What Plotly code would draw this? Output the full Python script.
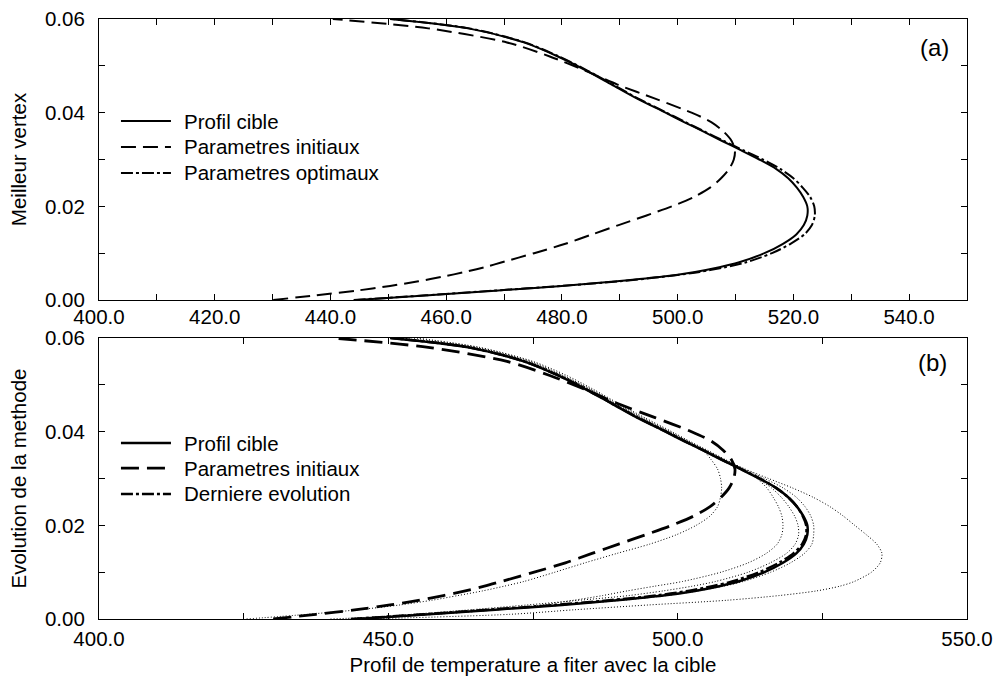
import plotly.graph_objects as go

# Position z (m) at which every temperature profile is sampled
z = [0.000, 0.001, 0.002, 0.003, 0.004, 0.005, 0.006, 0.007, 0.008, 0.010,
     0.012, 0.014, 0.016, 0.018, 0.020, 0.022, 0.024, 0.026, 0.028, 0.030,
     0.032, 0.034, 0.036, 0.038, 0.040, 0.043, 0.046, 0.049, 0.052, 0.055,
     0.058, 0.060]

# Temperature profiles T(z)
profil_cible = [444.6, 457.0, 468.5, 480.0, 489.5, 497.5, 503.0, 507.2, 510.5, 515.0,
                518.2, 520.5, 521.8, 522.4, 522.4, 521.7, 520.6, 519.1, 517.0, 514.1,
                510.9, 507.6, 504.4, 501.1, 497.9, 493.0, 488.6, 484.2, 479.3, 473.4,
                463.8, 450.3]
parametres_initiaux = [430.1, 437.5, 444.5, 450.3, 455.2, 459.5, 463.3, 466.6, 469.5, 475.2,
                       480.6, 485.2, 489.8, 494.5, 499.0, 502.8, 505.6, 507.5, 508.9, 509.7,
                       509.9, 509.3, 507.9, 505.8, 502.4, 496.1, 489.6, 484.0, 477.9, 470.5,
                       456.9, 440.4]
parametres_optimaux = [444.0, 456.5, 468.2, 479.8, 490.0, 497.8, 503.8, 508.2, 511.7, 516.3,
                       519.5, 521.9, 523.2, 523.7, 523.6, 522.9, 521.6, 520.0, 517.7, 514.7,
                       511.3, 507.9, 504.6, 501.3, 498.1, 493.2, 488.8, 484.4, 479.5, 473.6,
                       464.0, 450.5]
derniere_evolution = [443.5, 456.0, 467.5, 478.8, 488.2, 496.2, 501.8, 506.0, 509.4, 514.1,
                      517.5, 520.0, 521.5, 522.2, 522.2, 521.6, 520.6, 519.1, 517.0, 514.2,
                      511.0, 507.7, 504.5, 501.2, 498.0, 493.1, 488.7, 484.3, 479.4, 473.5,
                      463.9, 450.5]

# Intermediate profiles of the method
evolution_1 = [446.0, 471.0, 482.5, 495.0, 508.5, 517.5, 524.0, 528.0, 530.5, 533.5,
               535.0, 535.3, 534.4, 532.6, 530.6, 528.6, 526.3, 523.4, 519.8, 515.7,
               511.7, 508.3, 505.2, 502.0, 499.0, 494.3, 489.8, 485.5, 480.8, 475.0,
               465.8, 455.0]
evolution_2 = [425.5, 436.0, 445.0, 452.0, 457.5, 462.0, 466.3, 470.0, 473.4, 478.8,
               484.0, 489.5, 495.2, 499.8, 503.2, 505.6, 506.9, 507.4, 507.6, 507.4,
               506.9, 505.8, 504.4, 501.6, 498.5, 493.7, 489.2, 484.9, 480.0, 474.2,
               464.8, 452.0]
evolution_3 = [440.0, 458.0, 469.0, 476.5, 482.0, 487.0, 491.3, 496.0, 500.8, 507.5,
               512.2, 515.3, 517.2, 518.0, 518.2, 518.0, 517.4, 516.5, 515.4, 513.7,
               511.2, 508.2, 505.0, 501.8, 498.7, 493.9, 489.5, 485.1, 480.2, 474.6,
               465.5, 454.0]
evolution_4 = [444.6, 457.3, 468.9, 480.4, 490.5, 498.0, 503.5, 507.9, 511.3, 516.1,
               519.5, 521.9, 523.2, 523.5, 523.5, 523.0, 522.0, 520.5, 518.2, 515.0,
               511.5, 508.0, 504.7, 501.4, 498.2, 493.3, 488.9, 484.5, 479.6, 473.8,
               464.5, 451.5]
evolution_5 = [443.0, 454.0, 464.5, 474.0, 483.0, 491.5, 497.5, 502.5, 506.5, 512.2,
               516.0, 518.8, 520.3, 520.9, 520.8, 520.2, 519.2, 517.9, 516.2, 513.8,
               510.9, 507.8, 504.6, 501.4, 498.3, 493.4, 489.0, 484.6, 479.7, 473.9,
               464.3, 451.0]

legend_a = ["Profil cible", "Parametres initiaux", "Parametres optimaux"]
legend_b = ["Profil cible", "Parametres initiaux", "Derniere evolution"]

FONT = "Liberation Sans, Arial, Helvetica, sans-serif"
DASH = "15px,7px"
DASH_B = "18px,8px"
DASHDOT = "12px,3px,3px,3px"
DOT = "1px,2px"

fig = go.Figure()


def add(xs, dash, width, xa, ya):
    fig.add_trace(go.Scatter(
        x=xs, y=z, mode="lines", xaxis=xa, yaxis=ya, showlegend=False,
        line=dict(color="black", width=width, dash=dash, shape="spline", smoothing=0.8),
        hoverinfo="skip"))


# (a) best vertex
add(parametres_initiaux, DASH, 2, "x", "y")
add(parametres_optimaux, DASHDOT, 2, "x", "y")
add(profil_cible, "solid", 2, "x", "y")

# (b) evolution of the method
for prof in (evolution_1, evolution_2, evolution_3, evolution_4, evolution_5):
    add(prof, DOT, 1, "x2", "y2")
add(parametres_initiaux, DASH_B, 2.8, "x2", "y2")
add(derniere_evolution, DASHDOT, 2.5, "x2", "y2")
add(profil_cible, "solid", 2.5, "x2", "y2")


def axis_common():
    return dict(showline=True, linecolor="black", linewidth=1.2, mirror="ticks",
                ticks="inside", ticklen=6, tickcolor="black", tickwidth=1,
                showgrid=False, zeroline=False, automargin=False,
                tickfont=dict(family=FONT, size=20.5, color="black"))


xt_a = list(range(400, 551, 10))
xl_a = [f"{v:.1f}" if v % 20 == 0 and v < 550 else "" for v in xt_a]
xt_b = list(range(400, 551, 25))
xl_b = [f"{v:.1f}" if v % 50 == 0 else "" for v in xt_b]
yt = [0.00, 0.01, 0.02, 0.03, 0.04, 0.05, 0.06]
yl = [f"{v:.2f}" if round(v * 100) % 2 == 0 else "" for v in yt]

top_dom = [1 - 281 / 600, 1.0]
bot_dom = [0.0, 281 / 600]

fig.update_layout(
    width=998, height=677,
    margin=dict(l=99, r=31, t=19, b=58),
    paper_bgcolor="white", plot_bgcolor="white",
    showlegend=False,
    font=dict(family=FONT, size=20, color="black"),
    xaxis=dict(axis_common(), domain=[0, 1], anchor="y", range=[400, 550],
               tickmode="array", tickvals=xt_a, ticktext=xl_a, ticklabelstandoff=-2),
    yaxis=dict(axis_common(), domain=top_dom, anchor="x", range=[0, 0.06],
               tickmode="array", tickvals=yt, ticktext=yl, ticklabelstandoff=9,
               title=dict(text="Meilleur vertex", standoff=12,
                          font=dict(family=FONT, size=20.5))),
    xaxis2=dict(axis_common(), domain=[0, 1], anchor="y2", range=[400, 550],
                tickmode="array", tickvals=xt_b, ticktext=xl_b, ticklabelstandoff=1,
                title=dict(text="Profil de temperature a fiter avec la cible", standoff=8,
                           font=dict(family=FONT, size=20.5))),
    yaxis2=dict(axis_common(), domain=bot_dom, anchor="x2", range=[0, 0.06],
                tickmode="array", tickvals=yt, ticktext=yl, ticklabelstandoff=9,
                title=dict(text="Evolution de la methode", standoff=12,
                           font=dict(family=FONT, size=20.5))),
)

# Panel labels
fig.add_annotation(text="(a)", xref="x domain", yref="y domain", x=0.963, y=0.90,
                   xanchor="center", yanchor="middle",
                   showarrow=False, font=dict(family=FONT, size=24))
fig.add_annotation(text="(b)", xref="x2 domain", yref="y2 domain", x=0.960, y=0.912,
                   xanchor="center", yanchor="middle",
                   showarrow=False, font=dict(family=FONT, size=24))


# In-plot legends: line sample followed by its label
def legend(xref, yref, labels, styles, ys):
    for lab, (dash, w), yy in zip(labels, styles, ys):
        fig.add_shape(type="line", xref=xref, yref=yref, x0=0.0253, x1=0.0829, y0=yy, y1=yy,
                      line=dict(color="black", width=w, dash=dash))
        fig.add_annotation(text=lab, xref=xref, yref=yref, x=0.0955, y=yy,
                           xanchor="left", yanchor="middle", showarrow=False,
                           font=dict(family=FONT, size=20.5))


legend("x domain", "y domain", legend_a,
       [("solid", 2), (DASH, 2), (DASHDOT, 2)], [0.637, 0.5445, 0.452])
legend("x2 domain", "y2 domain", legend_b,
       [("solid", 2.5), (DASH_B, 2.8), (DASHDOT, 2.5)], [0.626, 0.537, 0.445])

fig.write_html("out.html")
